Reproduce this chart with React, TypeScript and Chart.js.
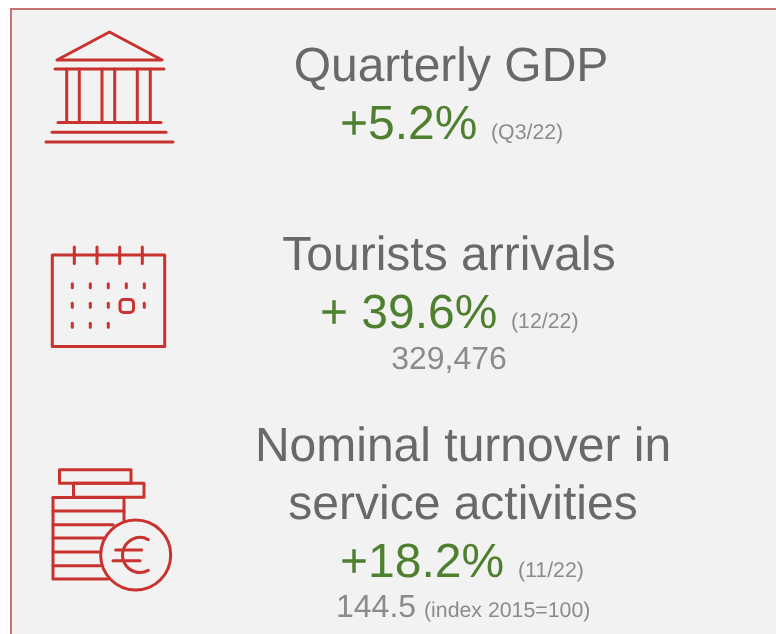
import React, { useEffect, useRef } from "react";
import { Chart, registerables } from "chart.js";

Chart.register(...registerables);

const titles = ["Quarterly GDP", "Tourists arrivals", "Nominal turnover in", "service activities"];
const changes = ["+5.2%", "+ 39.6%", "+18.2%"];
const periods = ["(Q3/22)", "(12/22)", "(11/22)"];
const levels = ["329,476", "144.5"];
const levelNote = "(index 2015=100)";

const FONT = '"Liberation Sans", Arial, sans-serif';
const GREY = "#696969";
const GREEN = "#4f8030";
const LIGHT = "#8b8b8b";
const RED = "#c8322f";

function line(c: CanvasRenderingContext2D, pts: number[]) {
  c.beginPath();
  c.moveTo(pts[0], pts[1]);
  for (let i = 2; i < pts.length; i += 2) c.lineTo(pts[i], pts[i + 1]);
  c.stroke();
}

function text(c: CanvasRenderingContext2D, s: string, x: number, y: number, size: number, color: string, align: CanvasTextAlign = "center") {
  c.font = `${size}px ${FONT}`;
  (c as any).textRendering = "geometricPrecision";
  c.fillStyle = color;
  c.textAlign = align;
  c.textBaseline = "alphabetic";
  c.fillText(s, x, y);
}

function bank(c: CanvasRenderingContext2D) {
  c.lineWidth = 3;
  line(c, [57, 60, 109.5, 32, 162, 60, 57, 60]);
  line(c, [55, 69, 164, 69]);
  [66.7, 79.3, 102, 114.7, 137.3, 150.3].forEach((x) => line(c, [x, 69, x, 122.5]));
  line(c, [58, 122.5, 161, 122.5]);
  line(c, [52, 132.3, 166, 132.3]);
  line(c, [46, 142, 173, 142]);
}

function calendar(c: CanvasRenderingContext2D) {
  c.lineWidth = 3;
  c.strokeRect(52.3, 255, 112.4, 91.5);
  [74.3, 97, 119.7, 142.3].forEach((x) => line(c, [x, 247, x, 263.5]));
  const xs = [72.3, 90.3, 108.3, 126.3, 144.3];
  [285.7, 305.3, 325.3].forEach((y, r) => {
    xs.forEach((x, i) => {
      if (r === 1 && i === 3) return;
      if (r === 2 && i > 2) return;
      line(c, [x, y - 2, x, y + 2]);
    });
  });
  c.beginPath();
  c.roundRect(120, 299.5, 13.5, 13, 3.5);
  c.stroke();
}

function coins(c: CanvasRenderingContext2D) {
  c.lineWidth = 3;
  c.strokeRect(59.5, 469.7, 71.5, 13.6);
  c.strokeRect(73.5, 483.3, 70.5, 14);
  line(c, [124, 497.5, 124, 520]);
  line(c, [53, 497.5, 124, 497.5]);
  line(c, [53, 497.5, 53, 579, 108, 579]);
  [511, 524.7, 538, 552, 565.7].forEach((y, i) => line(c, [53, y, [124, 113, 104, 100, 100][i], y]));
  c.beginPath();
  c.arc(135.7, 555, 35, 0, Math.PI * 2);
  c.stroke();
  c.beginPath();
  c.arc(140, 555, 17.5, 1.08, Math.PI * 2 - 1.08, false);
  c.stroke();
  line(c, [115.7, 550, 141.7, 550]);
  line(c, [113, 560.7, 140, 560.7]);
}

const panel = {
  id: "panel",
  beforeDraw(chart: Chart) {
    const c = chart.ctx;
    c.save();
    c.fillStyle = "#f2f2f2";
    c.fillRect(11, 9, 765, 625);
    c.fillStyle = "#c87373";
    c.fillRect(10, 8, 766, 2);
    c.fillRect(10, 8, 2, 626);
    c.strokeStyle = RED;
    c.lineCap = "round";
    c.lineJoin = "round";
    bank(c);
    calendar(c);
    coins(c);
    text(c, titles[0], 451, 81, 48, GREY);
    text(c, changes[0], 340, 139, 48, GREEN, "left");
    text(c, periods[0], 491, 139, 21.3, LIGHT, "left");
    text(c, titles[1], 449, 270, 48, GREY);
    text(c, changes[1], 320, 328, 48, GREEN, "left");
    text(c, periods[1], 511, 328, 21.3, LIGHT, "left");
    text(c, levels[0], 449, 369, 32, LIGHT);
    text(c, titles[2], 463, 461, 48, GREY);
    text(c, titles[3], 463, 519, 48, GREY);
    text(c, changes[2], 340, 577, 48, GREEN, "left");
    text(c, periods[2], 518, 577, 21.3, LIGHT, "left");
    text(c, levels[1], 336, 617, 32, LIGHT, "left");
    text(c, levelNote, 424, 617, 21.3, LIGHT, "left");
    c.restore();
  },
};

export default function App() {
  const ref = useRef<HTMLCanvasElement>(null);
  useEffect(() => {
    const chart = new Chart(ref.current!, {
      type: "scatter",
      data: { datasets: [] },
      options: {
        responsive: false,
        animation: false,
        events: [],
        layout: { padding: 0 },
        scales: { x: { display: false }, y: { display: false } },
        plugins: { legend: { display: false }, tooltip: { enabled: false } },
      },
      plugins: [panel],
    });
    return () => chart.destroy();
  }, []);
  return (
    <canvas
      ref={ref}
      width={776}
      height={634}
      style={{ position: "fixed", left: 0, top: 0, display: "block", width: 776, height: 634 }}
    />
  );
}
